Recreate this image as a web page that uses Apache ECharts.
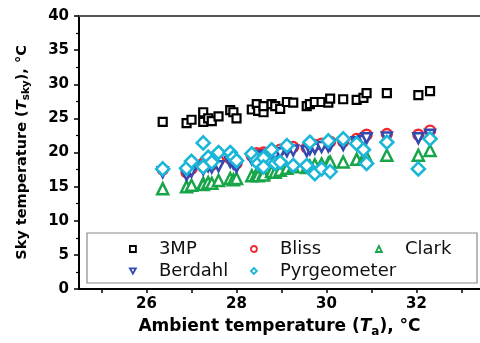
<!DOCTYPE html>
<html>
<head>
<meta charset="utf-8">
<script src="https://cdn.jsdelivr.net/npm/echarts@6/dist/echarts.min.js"></script>
<style>
  html, body { margin: 0; padding: 0; background: #fff; }
  #chart { width: 480px; height: 343px; }
</style>
</head>
<body>
<div id="chart"></div>
<script>
// ambient temperature (x) shared by every series
const ambient = [26.36, 26.89, 27.0, 27.26, 27.26, 27.37, 27.45, 27.6, 27.86, 27.93, 28.0, 28.34, 28.45, 28.48, 28.6, 28.6, 28.78, 28.86, 28.97, 29.12, 29.26, 29.56, 29.63, 29.74, 29.89, 30.04, 30.08, 30.37, 30.67, 30.82, 30.89, 31.34, 32.04, 32.3];
const sky3MP = [24.5, 24.3, 24.8, 25.9, 24.5, 25.0, 24.6, 25.3, 26.2, 25.9, 25.0, 26.3, 27.1, 26.1, 25.9, 26.8, 27.1, 26.8, 26.4, 27.4, 27.3, 26.8, 27.1, 27.4, 27.4, 27.3, 27.9, 27.8, 27.7, 28.0, 28.7, 28.7, 28.4, 29.0];
const skyBliss = [17.5, 17.1, 17.6, 18.4, 17.9, 18.5, 18.2, 18.8, 19.1, 18.9, 18.4, 19.5, 19.9, 19.6, 20.0, 19.7, 20.2, 20.1, 20.4, 20.7, 20.8, 20.7, 21.0, 21.1, 21.3, 21.4, 21.6, 21.6, 22.0, 22.2, 22.6, 22.7, 22.6, 23.2];
const skyClark = [14.7, 15.0, 15.2, 15.5, 15.3, 15.6, 15.5, 15.9, 16.2, 16.0, 16.2, 16.6, 16.9, 16.6, 17.0, 16.7, 17.2, 17.1, 17.4, 17.7, 17.9, 17.8, 18.0, 18.2, 18.3, 18.4, 18.6, 18.6, 19.0, 19.1, 19.3, 19.6, 19.6, 20.3];
const skyBerdahl = [17.1, 16.7, 17.2, 17.9, 17.5, 18.0, 17.8, 18.0, 18.6, 18.4, 17.9, 19.0, 19.4, 19.1, 19.5, 19.2, 19.7, 19.6, 19.9, 20.2, 20.3, 20.2, 20.5, 20.6, 20.8, 20.9, 21.1, 21.1, 21.5, 21.7, 22.1, 22.2, 22.1, 22.6];
const skyPyr = [17.6, 17.7, 18.7, 21.4, 17.9, 19.3, 18.6, 20.0, 20.0, 19.3, 18.8, 19.8, 18.9, 18.4, 19.2, 17.9, 20.4, 18.4, 18.6, 21.0, 18.1, 18.1, 21.5, 16.9, 17.6, 21.7, 17.2, 22.0, 21.3, 20.4, 18.4, 21.5, 17.6, 22.0];

const xLabels = [26, 28, 30, 32];
const xTicks = [25, 26, 27, 28, 29, 30, 31, 32, 33];

const pairs = (ys) => ambient.map((x, i) => [x, ys[i]]);

const chart = echarts.init(document.getElementById("chart"), null, { renderer: "canvas" });

const markerSeries = (name, ys, symbol, size, color, width, rotate) => ({
    name,
    type: "scatter",
    data: pairs(ys),
    symbol,
    symbolSize: size,
    symbolRotate: rotate || 0,
    itemStyle: { color: "#fff", borderColor: color, borderWidth: width, opacity: 1 },
    emphasis: { disabled: true },
});

const legendItem = (name, left, top, icon) => {
    const lg = {
        data: [name],
        left,
        top,
        itemWidth: 6,
        itemHeight: 6,
        padding: 0,
        selectedMode: false,
        itemStyle: { borderWidth: 1.8 },
        textStyle: { fontFamily: "DejaVu Sans", fontSize: 18, color: "#111", padding: [0, 0, 0, 18] },
    };
    if (icon) lg.icon = icon;
    return lg;
};

const option = {
    animation: false,
    grid: { left: 79, top: 16, right: 0, bottom: 51.5 },
    xAxis: [
        {
            type: "value",
            min: 24.5,
            max: 33.41,
            splitLine: { show: false },
            axisLine: { lineStyle: { color: "#000", width: 2 } },
            axisTick: { customValues: xTicks, length: 4, lineStyle: { color: "#000", width: 1.5 } },
            axisLabel: {
                customValues: xLabels,
                margin: 8,
                fontFamily: "DejaVu Sans",
                fontWeight: "bold",
                fontSize: 15,
                color: "#000",
            },
            name: "{b|Ambient temperature (}{i|T}{s|a}{b|), °C}",
            nameLocation: "middle",
            nameGap: 27,
            nameTextStyle: {
                rich: {
                    b: { fontFamily: "DejaVu Sans", fontWeight: "bold", fontSize: 17, color: "#000", lineHeight: 22 },
                    i: { fontFamily: "DejaVu Sans", fontWeight: "bold", fontStyle: "italic", fontSize: 17, color: "#000", lineHeight: 22 },
                    s: { fontFamily: "DejaVu Sans", fontWeight: "bold", fontSize: 12, color: "#000", lineHeight: 22, verticalAlign: "bottom", padding: [9, 0, 0, 0] },
                },
            },
        },
        {
            type: "value",
            position: "top",
            min: 24.5,
            max: 33.41,
            splitLine: { show: false },
            axisLine: { lineStyle: { color: "#555", width: 2 } },
            axisTick: { show: false },
            axisLabel: { show: false },
        },
    ],
    yAxis: {
        type: "value",
        min: 0,
        max: 40,
        interval: 5,
        splitLine: { show: false },
        axisLine: { show: true, lineStyle: { color: "#000", width: 2 } },
        axisTick: { show: true, length: 5, lineStyle: { color: "#000", width: 1.5 } },
        minorTick: { show: true, splitNumber: 2, length: 3, lineStyle: { color: "#000", width: 1.2 } },
        axisLabel: {
            margin: 10,
            fontFamily: "DejaVu Sans",
            fontWeight: "bold",
            fontSize: 15,
            color: "#000",
        },
        name: "{b|Sky temperature (}{i|T}{s|sky}{b|), °C}",
        nameLocation: "middle",
        nameGap: 47,
        nameTextStyle: {
            rich: {
                b: { fontFamily: "DejaVu Sans", fontWeight: "bold", fontSize: 14.5, color: "#000", lineHeight: 20 },
                i: { fontFamily: "DejaVu Sans", fontWeight: "bold", fontStyle: "italic", fontSize: 14.5, color: "#000", lineHeight: 20 },
                s: { fontFamily: "DejaVu Sans", fontWeight: "bold", fontSize: 10.5, color: "#000", lineHeight: 20, verticalAlign: "bottom", padding: [8, 0, 0, 0] },
            },
        },
    },
    legend: [
        legendItem("3MP", 129, 240),
        legendItem("Bliss", 250, 240),
        legendItem("Clark", 375, 240),
        legendItem("Berdahl", 129, 262, "path://M0,0L10,0L5,9Z"),
        legendItem("Pyrgeometer", 250, 262),
    ],
    graphic: [
        {
            type: "rect",
            shape: { x: 87, y: 233, width: 390, height: 50 },
            style: { fill: "#fff", stroke: "#8a8a8a", lineWidth: 1.2 },
            z: 0,
        },
    ],
    series: [
        markerSeries("3MP", sky3MP, "rect", 8, "#000", 2.2),
        markerSeries("Bliss", skyBliss, "circle", 10, "#ee2a33", 2.4),
        markerSeries("Clark", skyClark, "triangle", 11, "#18a54a", 2.5),
        markerSeries("Berdahl", skyBerdahl, "triangle", 10, "#3549b0", 2.5, 180),
        markerSeries("Pyrgeometer", skyPyr, "diamond", 13, "#1bb6d8", 2.6),
    ],
};

chart.setOption(option);
</script>
</body>
</html>
